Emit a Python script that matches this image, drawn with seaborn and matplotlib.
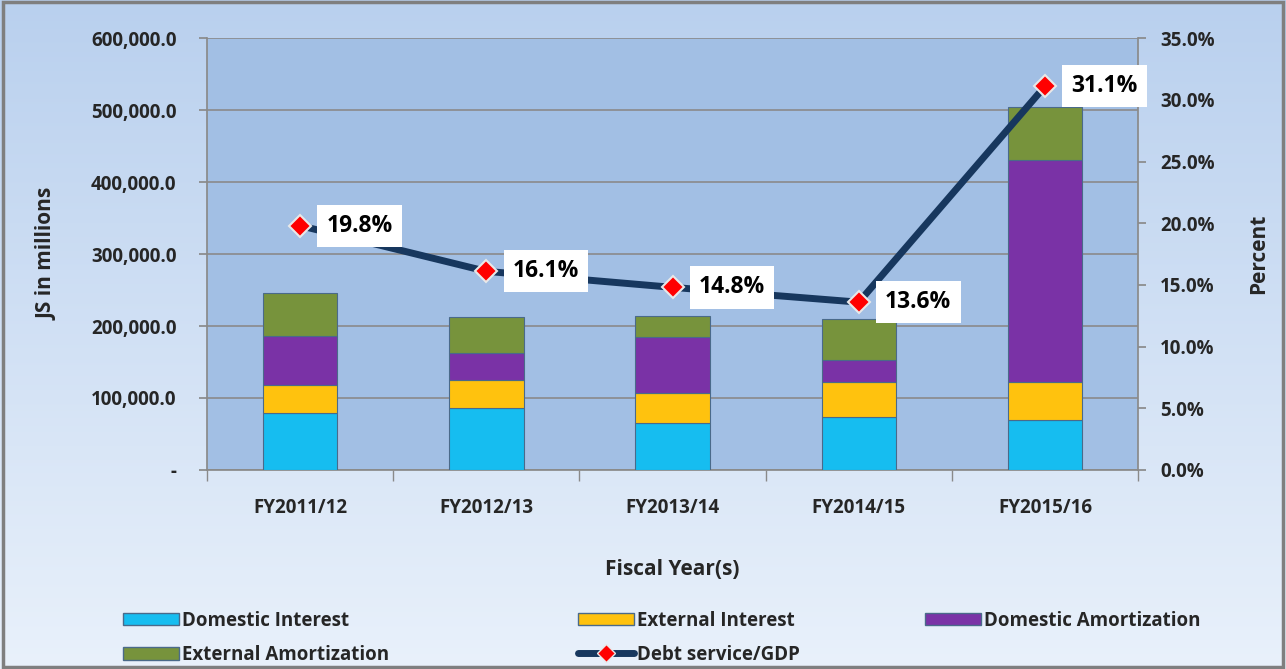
import numpy as np
import pandas as pd
import matplotlib
matplotlib.use("Agg")
import matplotlib.pyplot as plt
from matplotlib.ticker import FuncFormatter, MultipleLocator
from matplotlib.lines import Line2D
from matplotlib.patches import Patch
from matplotlib.colors import LinearSegmentedColormap
import seaborn as sns

# ---- data ----
years = ["FY2011/12", "FY2012/13", "FY2013/14", "FY2014/15", "FY2015/16"]
domestic_interest = [79000, 86000, 65000, 74000, 69000]
external_interest = [39000, 39000, 42000, 48000, 53000]
domestic_amort = [68000, 37000, 78000, 31000, 309000]
external_amort = [60000, 50000, 29000, 57000, 73000]
debt_service_gdp = [19.8, 16.1, 14.8, 13.6, 31.1]

series_names = ["Domestic Interest", "External Interest",
                "Domestic Amortization", "External Amortization"]
series_vals = [domestic_interest, external_interest, domestic_amort, external_amort]
series_colors = ["#16bdf0", "#ffc20e", "#7a32a6", "#77933c"]
line_name = "Debt service/GDP"

sns.set_theme(style="white")
plt.rcParams["font.family"] = ["Open Sans", "DejaVu Sans"]
plt.rcParams["font.weight"] = "bold"

fig = plt.figure(figsize=(12.86, 6.69), dpi=100)

# background gradient
bg = fig.add_axes([0, 0, 1, 1], zorder=-10)
grad = np.linspace(0, 1, 256).reshape(-1, 1)
cmap_bg = LinearSegmentedColormap.from_list("bg", ["#b9d0ee", "#e9f1fb"])
bg.imshow(grad, aspect="auto", cmap=cmap_bg, extent=[0, 1, 0, 1], origin="upper")
bg.set_axis_off()
fig.patches.append(plt.Rectangle((0.002, 0.003), 0.996, 0.994, transform=fig.transFigure,
                                 fill=False, edgecolor="#7f7f7f", linewidth=2.5))

ax = fig.add_axes([0.161, 0.2975, 0.724, 0.6455])
ax.set_facecolor("#a2bfe4")

df = pd.DataFrame({"year": years})
bottom = np.zeros(len(years))
for name, vals, col in zip(series_names, series_vals, series_colors):
    sns.barplot(x=df["year"], y=np.array(vals, dtype=float), ax=ax, color=col,
                bottom=bottom, width=0.4, edgecolor="#4a6a8a", linewidth=0.8,
                saturation=1, zorder=3)
    bottom = bottom + np.array(vals)

ax.set_ylim(0, 600000)
ax.set_xlim(-0.5, len(years) - 0.5)
ax.yaxis.set_major_locator(MultipleLocator(100000))
ax.yaxis.set_major_formatter(FuncFormatter(lambda v, p: "-" if v == 0 else f"{v:,.1f}"))
ax.grid(axis="y", color="#8a8a8a", linewidth=1.2, zorder=0)
ax.set_axisbelow(True)
for s in ax.spines.values():
    s.set_visible(False)
ax.spines["left"].set_visible(True)
ax.spines["left"].set_color("#8a8a8a")
ax.spines["bottom"].set_visible(True)
ax.spines["bottom"].set_color("#8a8a8a")
ax.tick_params(axis="y", labelsize=13.5, length=6, color="#8a8a8a", left=True, pad=16)
ax.tick_params(axis="x", labelsize=13.5, length=0, pad=20)
ax.set_xticks(np.arange(-0.5, len(years), 1), minor=True)
ax.tick_params(axis="x", which="minor", length=8, color="#8a8a8a", bottom=True)
for lbl in ax.get_xticklabels() + ax.get_yticklabels():
    lbl.set_fontweight("bold")
ax.set_xlabel("Fiscal Year(s)", fontsize=15, fontweight="bold", labelpad=30)
ax.set_ylabel("JS in millions", fontsize=15, fontweight="bold", labelpad=24)

ax2 = ax.twinx()
sns.lineplot(x=np.arange(len(years)), y=debt_service_gdp, ax=ax2, color="#17375e",
             linewidth=5, marker="D", markersize=11, markerfacecolor="#ff0000",
             markeredgecolor="#e8e8e8", markeredgewidth=1.5, zorder=5)
ax2.set_ylim(0, 35)
ax2.yaxis.set_major_locator(MultipleLocator(5))
ax2.yaxis.set_major_formatter(FuncFormatter(lambda v, p: f"{v:.1f}%"))
ax2.tick_params(axis="y", labelsize=13.5, length=6, color="#8a8a8a", right=True, pad=10)
for lbl in ax2.get_yticklabels():
    lbl.set_fontweight("bold")
for s in ax2.spines.values():
    s.set_visible(False)
ax2.spines["right"].set_visible(True)
ax2.spines["right"].set_color("#8a8a8a")
ax2.set_ylabel("Percent", fontsize=15, fontweight="bold", labelpad=24)
ax2.grid(False)
ax2.set_xlim(-0.5, len(years) - 0.5)

for i, v in enumerate(debt_service_gdp):
    ax2.annotate(f"{v:.1f}%", (i, v), xytext=(19, 0), textcoords="offset points",
                 ha="left", va="center", fontsize=16.5, fontweight="bold", color="black",
                 bbox=dict(boxstyle="square,pad=0.4", facecolor="white", edgecolor="none"),
                 zorder=6)

# legend: three columns placed explicitly
h_patches = [Patch(facecolor=c, edgecolor="#4a6a8a", label=n)
             for n, c in zip(series_names, series_colors)]
h_line = Line2D([0], [0], color="#17375e", linewidth=5, marker="D", markersize=9,
                markerfacecolor="#ff0000", markeredgecolor="#e8e8e8", label=line_name)
columns = [([h_patches[0], h_patches[3]], 0.088),
           ([h_patches[1], h_line], 0.442),
           ([h_patches[2]], 0.712)]
for hs, xpos in columns:
    leg = fig.legend(handles=hs, labels=[h.get_label() for h in hs], ncol=1,
                     loc="upper left", bbox_to_anchor=(xpos, 0.101), frameon=False,
                     handlelength=3.0, handleheight=0.65, handletextpad=0.15,
                     labelspacing=0.75, borderpad=0.0,
                     prop={"weight": "bold", "size": 13.5})

fig.savefig("out.png", dpi=100)
